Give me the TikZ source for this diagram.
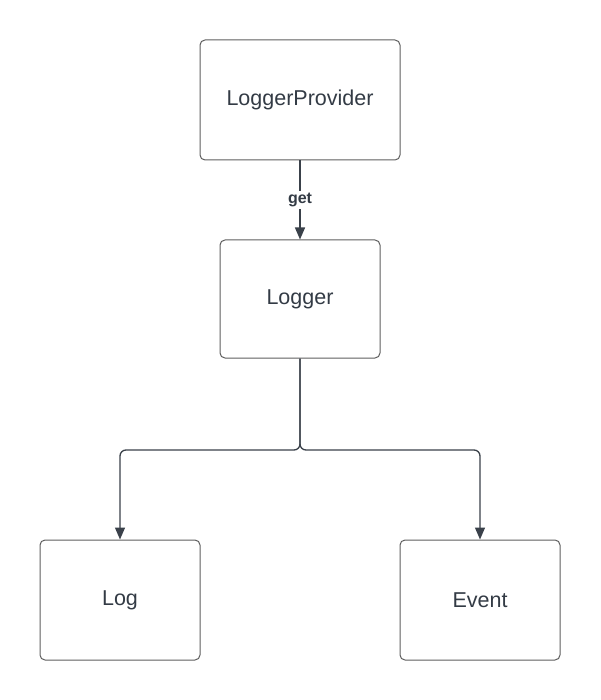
\documentclass[tikz,border=0pt]{standalone}
\usepackage{fontspec}
\setmainfont{Liberation Sans}
\usetikzlibrary{arrows.meta}
\definecolor{boxgray}{HTML}{5E5E5E}
\definecolor{linedark}{HTML}{3A414A}
\definecolor{textdark}{HTML}{333B45}
\begin{document}
\begin{tikzpicture}[x=1pt, y=-1pt,
    box/.style={draw=boxgray, rounded corners=5pt, line width=1pt, minimum width=160pt, minimum height=120pt, align=center, text=textdark, font=\fontsize{21.5}{25}\selectfont},
    link/.style={draw=linedark, line width=1.3pt, -{Triangle[length=12pt, width=10pt]}}
]
    \useasboundingbox (0,0) rectangle (600,700);

    % Boxes
    \node[box, minimum width=200pt] (provider) at (300,100) {LoggerProvider};
    \node[box, minimum height=118pt] (logger) at (300,299) {Logger};
    \node[box] (log) at (120,600) {Log};
    \node[box] (event) at (480,600) {Event};

    % Connectors
    \draw[link] (provider) -- node[fill=white, inner sep=2pt, text=textdark, font=\fontsize{16}{19}\selectfont\bfseries] {get} (logger);
    \coordinate (split) at (300,450);
    \draw[link, rounded corners=6pt] (logger.south) -- (split) -| (log.north);
    \draw[link, rounded corners=6pt] (logger.south) -- (split) -| (event.north);
\end{tikzpicture}
\end{document}
